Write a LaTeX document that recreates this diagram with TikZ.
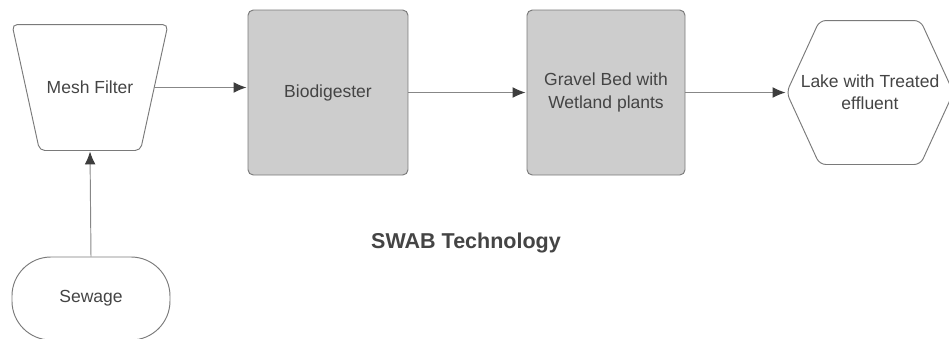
\documentclass[tikz,border=0pt]{standalone}
\usepackage{fontspec}
\setmainfont{Liberation Sans}
\usetikzlibrary{arrows.meta,positioning,shapes.geometric}

\definecolor{linegray}{HTML}{7A7A7A}
\definecolor{textgray}{HTML}{444444}
\definecolor{boxgray}{HTML}{CDCDCD}

\tikzset{
  unit/.style={draw=linegray, line width=0.9pt, text=textgray, align=center,
    font=\fontsize{16.6}{21}\selectfont, inner sep=0pt},
  outline/.style={draw=linegray, line width=0.9pt},
  procbox/.style={unit, fill=boxgray, rounded corners=5pt, minimum height=5.5cm},
  flow/.style={draw=linegray!90, line width=0.9pt, shorten >=1pt,
    -{Latex[length=0.43cm,width=0.36cm,color=textgray!90!black]}},
}

\begin{document}
\begin{tikzpicture}
    \useasboundingbox (0,0) rectangle (31.633,11.267);

    % mesh filter: text node plus a drawn trapezium around it
    \node[unit, draw=none, minimum width=4.25cm, minimum height=4.167cm] (mesh) at (3.0,8.35) {Mesh Filter};
    \draw[outline, rounded corners=5pt]
      ([xshift=-0.458cm]mesh.north west) -- ([xshift=0.458cm]mesh.north east)
      -- ([xshift=-0.458cm]mesh.south east) -- ([xshift=0.458cm]mesh.south west) -- cycle;

    \node[unit, rounded corners=1.3cm, minimum width=5.267cm, minimum height=2.767cm]
      (sewage) at (3.033,1.317) {Sewage};

    \node[procbox, minimum width=5.333cm] (biodig) at (10.933,8.183) {Biodigester};
    \node[procbox, minimum width=5.267cm] (gravel) at (20.2,8.183) {Gravel Bed with\\Wetland plants};

    % lake: text node plus a drawn hexagon around it
    \node[unit, draw=none, minimum width=5.533cm, minimum height=4.767cm] (lake) at (29.0,8.183) {Lake with Treated\\effluent};
    \draw[outline, rounded corners=6pt]
      (lake.west) -- ([xshift=1.1cm]lake.north west) -- ([xshift=-1.1cm]lake.north east)
      -- (lake.east) -- ([xshift=-1.1cm]lake.south east) -- ([xshift=1.1cm]lake.south west) -- cycle;

    \draw[flow] (sewage.north) -- (mesh.south);
    \draw[flow] (mesh.east) -- (mesh.east -| biodig.west);
    \draw[flow] (biodig) -- (gravel);
    \draw[flow] (gravel) -- (lake.west);

    % caption
    \node[text=textgray, font=\fontsize{20.4}{24}\selectfont\bfseries] (title) at (15.533,3.167) {SWAB Technology};
\end{tikzpicture}
\end{document}
